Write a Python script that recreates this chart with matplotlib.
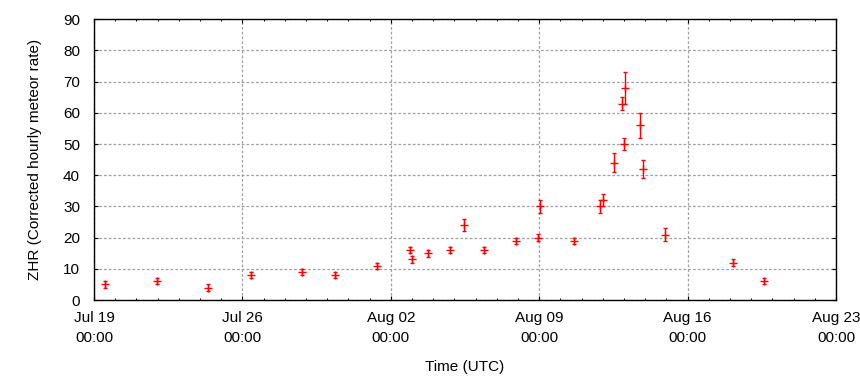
import matplotlib
matplotlib.use("Agg")
import matplotlib.pyplot as plt
import matplotlib.dates as mdates
import matplotlib.ticker as mticker
import pandas as pd

# --- data ---
times = [
    "2016-07-19 12:30", "2016-07-21 23:15", "2016-07-24 09:05", "2016-07-26 09:50",
    "2016-07-28 19:25", "2016-07-30 08:55", "2016-08-01 08:25", "2016-08-02 21:50",
    "2016-08-03 00:00", "2016-08-03 18:00", "2016-08-04 19:00", "2016-08-05 11:15",
    "2016-08-06 09:35", "2016-08-07 21:50", "2016-08-08 22:35", "2016-08-09 01:25",
    "2016-08-10 15:20", "2016-08-11 20:55", "2016-08-12 00:15", "2016-08-12 12:45",
    "2016-08-12 21:50", "2016-08-13 00:00", "2016-08-13 01:10", "2016-08-13 18:00",
    "2016-08-13 21:35", "2016-08-14 22:20", "2016-08-18 03:20", "2016-08-19 14:25",
]
zhr = [5, 6, 4, 8, 9, 8, 11, 16, 13, 15, 16, 24, 16, 19, 20, 30,
       19, 30, 32, 44, 63, 50, 68, 56, 42, 21, 12, 6]
zhr_err = [1, 1, 1.2, 1, 1, 1, 1, 1, 1.1, 1.1, 1, 2, 1, 1, 1.1, 2.2,
           1, 2.1, 2, 3.1, 2, 1.9, 5, 4, 3, 2, 1.2, 1]

x_start = "2016-07-19 00:00"
x_end = "2016-08-23 00:00"
y_ticks = [0, 10, 20, 30, 40, 50, 60, 70, 80, 90]

plt.rcParams['font.family'] = ['Liberation Sans', 'DejaVu Sans']

fig = plt.figure(figsize=(8.6, 3.8), dpi=100)
ax = fig.add_axes([94 / 860, 1 - 300 / 380, (836 - 94) / 860, (300 - 19.3) / 380])

t = pd.to_datetime(times)
ax.errorbar(t, zhr, yerr=zhr_err, fmt='+', color='#ff0000', ecolor='#ff0000',
            markersize=5.5, mew=1.0, elinewidth=1.0, capsize=1.7, capthick=1.0,
            zorder=3)

ax.set_xlim(pd.Timestamp(x_start), pd.Timestamp(x_end))
ax.set_ylim(0, 90)
ax.set_yticks(y_ticks)

ax.xaxis.set_major_locator(mticker.FixedLocator(
    mdates.date2num(pd.date_range(x_start, x_end, freq='7D'))))
ax.xaxis.set_major_formatter(mdates.DateFormatter('%b %d\n%H:%M'))
ax.xaxis.set_minor_locator(mticker.FixedLocator(
    mdates.date2num(pd.date_range(x_start, x_end, freq='1D'))))

ax.tick_params(axis='both', which='major', direction='in', length=3, width=0.8,
               top=True, right=True, labelsize=11, colors='black')
ax.tick_params(axis='x', which='minor', direction='in', length=1.6, width=0.7,
               top=True, bottom=True)
ax.tick_params(axis='y', which='major', pad=10)
ax.tick_params(axis='x', which='major', pad=8)
for lbl in ax.get_xticklabels():
    lbl.set_linespacing(1.5)

ax.grid(True, which='major', color='#a0a0a0', linestyle=(0, (2.2, 1.6)), linewidth=0.9)
ax.set_axisbelow(True)
for s in ax.spines.values():
    s.set_linewidth(1.0)
    s.set_color('black')

ax.set_xlabel('Time (UTC)', fontsize=11, labelpad=11)
ax.set_ylabel('ZHR (Corrected hourly meteor rate)', fontsize=11, labelpad=15)

fig.savefig('out.png', dpi=100)
